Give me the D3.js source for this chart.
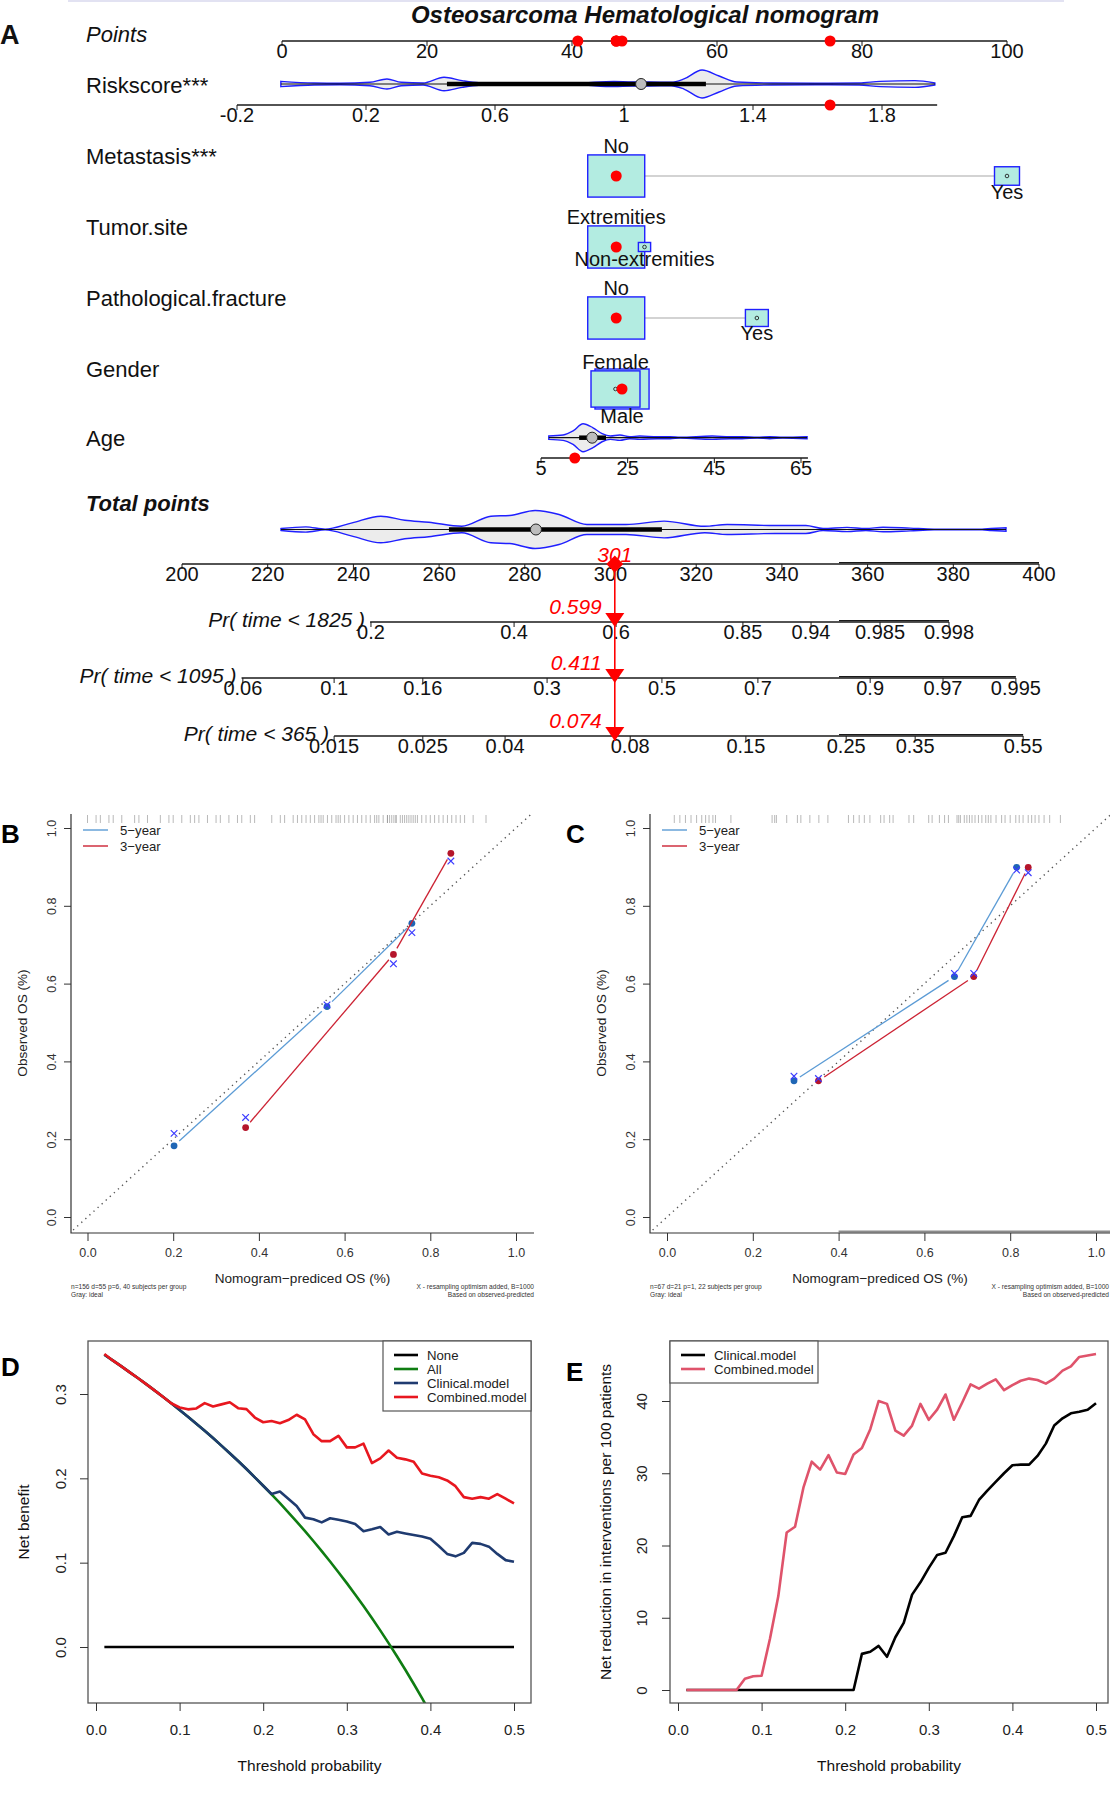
<!DOCTYPE html>
<html>
<head>
<meta charset="utf-8">
<title>Osteosarcoma Hematological nomogram</title>
<script src="https://cdn.jsdelivr.net/npm/d3@7"></script>
<style>
  body { margin: 0; background: #fff; }
  svg { display: block; }
</style>
</head>
<body>
<div id="chart-area"></div>
<script>
// ---------------- panel A : nomogram values
var pointTicks = [0, 20, 40, 60, 80, 100];
var riskTicks = [-0.2, 0.2, 0.6, 1, 1.4, 1.8];
var ageTicks = [5, 25, 45, 65];
var totalTicks = [200, 220, 240, 260, 280, 300, 320, 340, 360, 380, 400];

// violin outlines: grid value + relative density
var riskGrid = [-0.064, 0.039, 0.119, 0.212, 0.265, 0.309, 0.377, 0.442, 0.498, 0.550, 0.715, 0.848, 0.969,
                1.025, 1.078, 1.146, 1.186, 1.242, 1.295, 1.350, 1.456, 1.592, 1.729, 1.794, 1.902, 1.964];
var riskDens = [0.19, 0.07, 0.05, 0.12, 0.36, 0.12, 0.07, 0.48, 0.24, 0.10, 0.05, 0.05, 0.19,
                0.14, 0.14, 0.12, 0.36, 1.00, 0.57, 0.14, 0.07, 0.05, 0.07, 0.19, 0.24, 0.07];
var riskBox = [0.451, 1.053, 1.254];

var ageGrid = [6.8, 10.1, 12.4, 14.7, 17.0, 19.1, 21.0, 23.2, 25.5, 27.8, 31.8, 34.8, 37.1, 44.5, 48.6, 51.4, 54.9, 57.8, 60.8, 66.4];
var ageDens = [0.12, 0.19, 0.48, 1.00, 0.71, 0.29, 0.12, 0.19, 0.07, 0.12, 0.07, 0.07, 0.03, 0.12, 0.07, 0.07, 0.03, 0.07, 0.03, 0.07];
var ageBox = [13.8, 16.8, 20.0];

var totGrid = [223.1, 228.9, 233.4, 239.7, 246.4, 252.0, 257.6, 265.3, 272.1, 276.5, 282.4, 288.0, 294.5, 303.6,
               312.5, 322.0, 327.2, 338.4, 345.6, 349.6, 355.2, 359.6, 363.6, 369.9, 375.5, 386.7, 388.8, 392.3];
var totDens = [0.05, 0.14, 0.02, 0.35, 0.70, 0.49, 0.38, 0.17, 0.70, 0.74, 1.00, 0.79, 0.26, 0.26,
               0.44, 0.17, 0.26, 0.21, 0.21, 0.05, 0.11, 0.05, 0.12, 0.07, 0.02, 0.02, 0.05, 0.09];
var totBox = [262.3, 282.6, 312.0];

// categorical variables: levels, points, counts
var metaLevels = ["No", "Yes"],                  metaPts = [46.1, 100],  metaN = [130, 25];
var siteLevels = ["Extremities", "Non-extremities"], sitePts = [46.1, 50.0], siteN = [130, 6];
var fracLevels = ["No", "Yes"],                  fracPts = [46.1, 65.5], fracN = [130, 21];
var sexLevels = ["Female", "Male"],              sexPts = [46.0, 46.9],  sexN = [96, 117];

// the patient shown in red
var patRisk = 1.639, patAge = 12.8, patTotal = 301;
var patLevel = [0, 0, 0, 1];
var patPts = [75.6, 46.1, 46.1, 46.1, 46.9, 40.8];

// probability axes: tick labels and the total points where they sit
var prNames = ["Pr( time < 1825 )", "Pr( time < 1095 )", "Pr( time < 365 )"];
var prTicks = [[0.2, 0.4, 0.6, 0.85, 0.94, 0.985, 0.998],
               [0.06, 0.1, 0.16, 0.3, 0.5, 0.7, 0.9, 0.97, 0.995],
               [0.015, 0.025, 0.04, 0.08, 0.15, 0.25, 0.35, 0.55]];
var prAt = [[244.1, 277.5, 301.3, 330.9, 346.8, 362.9, 379.0],
            [214.2, 235.5, 256.2, 285.2, 312.0, 334.4, 360.6, 377.6, 394.6],
            [235.5, 256.2, 275.4, 304.6, 331.6, 355.0, 371.1, 396.3]];
var prSpan = [[243.9, 379.0], [213.9, 394.6], [235.5, 396.3]];
var prPat = ["0.599", "0.411", "0.074"];

// ---------------- panels B, C : calibration
var calTicks = [0, 0.2, 0.4, 0.6, 0.8, 1.0];
var b5x = [0.202, 0.559, 0.757], b5y = [0.183, 0.541, 0.755], b5c = [0.215, 0.545, 0.731];
var b3x = [0.369, 0.714, 0.848], b3y = [0.230, 0.675, 0.935], b3c = [0.256, 0.651, 0.915];
var c5x = [0.296, 0.670, 0.815], c5y = [0.350, 0.618, 0.899], c5c = [0.362, 0.626, 0.892];
var c3x = [0.353, 0.715, 0.842], c3y = [0.350, 0.618, 0.899], c3c = [0.356, 0.626, 0.885];
var rugB = [0.00, 0.02, 0.03, 0.05, 0.06, 0.08, 0.11, 0.12, 0.14, 0.17, 0.19, 0.20, 0.22, 0.24, 0.25, 0.26,
            0.28, 0.30, 0.31, 0.33, 0.35, 0.36, 0.38, 0.39, 0.43, 0.45, 0.46, 0.48, 0.49, 0.50, 0.51, 0.52,
            0.53, 0.54, 0.545, 0.55, 0.56, 0.57, 0.58, 0.585, 0.59, 0.60, 0.61, 0.62, 0.63, 0.64, 0.65, 0.66,
            0.67, 0.675, 0.68, 0.69, 0.70, 0.70, 0.705, 0.71, 0.715, 0.72, 0.72, 0.73, 0.735, 0.74, 0.745,
            0.75, 0.755, 0.76, 0.765, 0.77, 0.78, 0.79, 0.80, 0.81, 0.82, 0.83, 0.84, 0.85, 0.86, 0.87, 0.88,
            0.90, 0.93];
var rugC = [0.017, 0.030, 0.043, 0.056, 0.069, 0.081, 0.090, 0.098, 0.107, 0.113, 0.149,
            0.245, 0.251, 0.255, 0.279, 0.304, 0.312, 0.333, 0.354, 0.375,
            0.423, 0.435, 0.448, 0.460, 0.473, 0.498, 0.506, 0.519, 0.527, 0.564, 0.575,
            0.610, 0.618, 0.635, 0.647, 0.656, 0.676, 0.680, 0.684, 0.693, 0.699, 0.705, 0.711, 0.718,
            0.726, 0.734, 0.743, 0.749, 0.755, 0.767, 0.780, 0.788, 0.800, 0.813, 0.821, 0.830, 0.842,
            0.850, 0.858, 0.867, 0.879, 0.892, 0.917];

// ---------------- panels D, E : decision curves
var thr = [0.01, 0.02, 0.03, 0.04, 0.05, 0.06, 0.07, 0.08, 0.09, 0.10, 0.11, 0.12, 0.13, 0.14, 0.15, 0.16, 0.17,
           0.18, 0.19, 0.20, 0.21, 0.22, 0.23, 0.24, 0.25, 0.26, 0.27, 0.28, 0.29, 0.30, 0.31, 0.32, 0.33, 0.34,
           0.35, 0.36, 0.37, 0.38, 0.39, 0.40, 0.41, 0.42, 0.43, 0.44, 0.45, 0.46, 0.47, 0.48, 0.49, 0.50];
var nbAll = [0.3465, 0.3398, 0.3330, 0.3260, 0.3189, 0.3117, 0.3043, 0.2967, 0.2890, 0.2811, 0.2730, 0.2648,
             0.2563, 0.2477, 0.2388, 0.2298, 0.2205, 0.2110, 0.2012, 0.1912, 0.1810, 0.1705, 0.1597, 0.1487,
             0.1373, 0.1257, 0.1137, 0.1014, 0.0887, 0.0757, 0.0623, 0.0485, 0.0343, 0.0197, 0.0046, -0.0109,
             -0.0270, -0.0436, -0.0607, -0.0783];
var nbClin = [0.3465, 0.3398, 0.3330, 0.3260, 0.3189, 0.3117, 0.3043, 0.2967, 0.2890, 0.2811, 0.2730, 0.2648,
              0.2563, 0.2477, 0.2388, 0.2298, 0.2205, 0.2110, 0.2012, 0.1912, 0.1814, 0.1844, 0.1758, 0.1671,
              0.1534, 0.1515, 0.1478, 0.1527, 0.1508, 0.1489, 0.1459, 0.1373, 0.1396, 0.1422, 0.1335, 0.1366,
              0.1347, 0.1328, 0.1310, 0.1283, 0.1197, 0.1104, 0.1075, 0.1116, 0.1235, 0.1223, 0.1190, 0.1104,
              0.1030, 0.1011];
var nbComb = [0.3475, 0.3398, 0.3330, 0.3260, 0.3189, 0.3117, 0.3043, 0.2967, 0.2890, 0.2840, 0.2818, 0.2829,
              0.2892, 0.2851, 0.2877, 0.2902, 0.2832, 0.2821, 0.2721, 0.2665, 0.2680, 0.2654, 0.2691, 0.2754,
              0.2698, 0.2523, 0.2441, 0.2441, 0.2504, 0.2367, 0.2367, 0.2411, 0.2181, 0.2236, 0.2330, 0.2244,
              0.2225, 0.2196, 0.2057, 0.2031, 0.2012, 0.1975, 0.1907, 0.1777, 0.1758, 0.1777, 0.1758, 0.1814,
              0.1758, 0.1702];
var nrClin = [0, 0, 0, 0, 0, 0, 0, 0, 0, 0, 0, 0, 0, 0, 0, 0, 0, 0, 0, 0, 0,
              5.0, 5.3, 6.1, 4.6, 7.3, 9.3, 13.2, 14.9, 16.9, 18.7, 19.0, 21.3, 23.9, 24.1, 26.3, 27.6, 28.8,
              30.0, 31.1, 31.2, 31.2, 32.4, 34.1, 36.6, 37.6, 38.3, 38.5, 38.8, 39.7];
var nrComb = [0, 0, 0, 0, 0, 0, 0,
              1.55, 1.9, 1.97, 7.1, 13.0, 21.8, 22.6, 28.0, 31.6, 30.5, 32.5, 30.1, 29.9, 32.6, 33.5, 36.1,
              40.0, 39.6, 35.9, 35.2, 36.6, 39.6, 37.4, 38.8, 40.9, 37.4, 39.8, 42.3, 41.7, 42.4, 43.0, 41.5,
              42.2, 42.8, 43.1, 42.9, 42.4, 43.1, 44.2, 44.8, 46.1, 46.3, 46.5];

// ---------------------------------------------------------------
var FONT = "'Liberation Sans', Arial, Helvetica, sans-serif";
var RED = "#ff0000", VBLUE = "#1f1fff";

var svg = d3.select("#chart-area").append("svg")
    .attr("width", 1110).attr("height", 1801)
    .attr("viewBox", [0, 0, 1110, 1801])
    .style("font-family", FONT);

function txt(g, x, y, s, size, o) {
    o = o || {};
    return g.append("text").attr("x", x).attr("y", y).text(s)
        .attr("font-size", size)
        .attr("text-anchor", o.anchor || "start")
        .attr("font-weight", o.weight || null)
        .attr("font-style", o.style || null)
        .attr("fill", o.fill || "#111");
}
function vtxt(g, cx, cy, s, size, o) {
    o = o || {};
    return g.append("text").attr("transform", "translate(" + (cx + size * 0.36) + "," + cy + ") rotate(-90)")
        .attr("text-anchor", "middle").attr("font-size", size).attr("fill", o.fill || "#111").text(s);
}

// ================= A
var A = svg.append("g");
var xPts = d3.scaleLinear().domain([0, 100]).range([282, 1007]);
var xRisk = d3.scaleLinear().domain([-0.2, 1.8]).range([237, 882]);
var xAge = d3.scaleLinear().domain([5, 65]).range([541, 801]);
var xTot = d3.scaleLinear().domain([200, 400]).range([182, 1039]);

A.append("line").attr("x1", 68).attr("x2", 1064).attr("y1", 1).attr("y2", 1)
    .attr("stroke", "#e2e2f2").attr("stroke-width", 2);
txt(A, 645, 23, "Osteosarcoma Hematological nomogram", 24, {anchor: "middle", weight: "bold", style: "italic"});
txt(A, 0, 44, "A", 27, {weight: "bold"});

function nomoAxis(scale, at, labels, y, span, step) {
    var g = A.append("g");
    g.append("line").attr("x1", scale(span[0])).attr("x2", scale(span[1]))
        .attr("y1", y).attr("y2", y).attr("stroke", "#1a1a1a").attr("stroke-width", 1.6);
    if (step) g.append("line").attr("x1", step).attr("x2", scale(span[1]))
        .attr("y1", y - 1.3).attr("y2", y - 1.3).attr("stroke", "#1a1a1a").attr("stroke-width", 1.3);
    g.selectAll("line.tk").data(at).join("line").attr("class", "tk")
        .attr("x1", d => scale(d)).attr("x2", d => scale(d))
        .attr("y1", y).attr("y2", y + 5).attr("stroke", "#1a1a1a").attr("stroke-width", 1);
    g.selectAll("text").data(labels).join("text")
        .attr("x", (d, i) => scale(at[i])).attr("y", y + 17)
        .attr("text-anchor", "middle").attr("font-size", 20).attr("fill", "#111")
        .text(d => d);
}

function violin(scale, grid, dens, cy, hmax, box) {
    var g = A.append("g");
    var area = d3.area()
        .x((d, i) => scale(grid[i]))
        .y0((d, i) => cy + hmax * dens[i])
        .y1((d, i) => cy - hmax * dens[i])
        .curve(d3.curveMonotoneX);
    g.append("path").datum(grid).attr("d", area)
        .attr("fill", "#ececec").attr("stroke", VBLUE).attr("stroke-width", 1.4);
    g.append("line").attr("x1", scale(grid[0])).attr("x2", scale(grid[grid.length - 1]))
        .attr("y1", cy).attr("y2", cy).attr("stroke", "#111").attr("stroke-width", 1.2);
    g.append("line").attr("x1", scale(box[0])).attr("x2", scale(box[2]))
        .attr("y1", cy).attr("y2", cy).attr("stroke", "#000").attr("stroke-width", 4.5);
    g.append("circle").attr("cx", scale(box[1])).attr("cy", cy).attr("r", 5.5)
        .attr("fill", "#bdbdbd").attr("stroke", "#222").attr("stroke-width", 1);
}

var boxW = d3.scaleSqrt().domain([0, 130]).range([0, 57]);
function catRow(name, levels, pts, ns, sel, cy, labelY) {
    txt(A, 86, labelY, name, 22);
    var g = A.append("g");
    g.append("line").attr("x1", xPts(pts[0])).attr("x2", xPts(pts[1]))
        .attr("y1", cy).attr("y2", cy).attr("stroke", "#c4c4c4").attr("stroke-width", 1.6);
    var order = d3.range(levels.length).sort((a, b) => ns[b] - ns[a]);
    g.selectAll("rect").data(order).join("rect")
        .attr("x", i => xPts(pts[i]) - boxW(ns[i]) / 2)
        .attr("y", i => cy - boxW(ns[i]) * 0.37)
        .attr("width", i => boxW(ns[i]))
        .attr("height", i => boxW(ns[i]) * 0.74)
        .attr("fill", "#b3ece1").attr("stroke", VBLUE).attr("stroke-width", 1.4);
    g.selectAll("circle.mk").data(order).join("circle").attr("class", "mk")
        .attr("cx", i => xPts(pts[i])).attr("cy", cy).attr("r", 1.8)
        .attr("fill", "none").attr("stroke", "#222").attr("stroke-width", 0.9);
    txt(g, xPts(pts[0]), cy - boxW(ns[0]) * 0.37 - 2, levels[0], 20, {anchor: "middle"});
    txt(g, xPts(pts[1]), cy + boxW(ns[1]) * 0.37 + 14, levels[1], 20, {anchor: "middle"});
    g.append("circle").attr("cx", xPts(pts[sel])).attr("cy", cy).attr("r", 5.5).attr("fill", RED);
}

txt(A, 86, 42, "Points", 22, {style: "italic"});
nomoAxis(xPts, pointTicks, pointTicks, 41, [0, 100]);

txt(A, 86, 93, "Riskscore***", 22);
violin(xRisk, riskGrid, riskDens, 84, 14, riskBox);
nomoAxis(xRisk, riskTicks, riskTicks.map(String), 105, [-0.2, 1.971]);

catRow("Metastasis***", metaLevels, metaPts, metaN, patLevel[0], 176, 164);
catRow("Tumor.site", siteLevels, sitePts, siteN, patLevel[1], 247, 235);
catRow("Pathological.fracture", fracLevels, fracPts, fracN, patLevel[2], 318, 306);
catRow("Gender", sexLevels, sexPts, sexN, patLevel[3], 389, 377);

txt(A, 86, 446, "Age", 22);
violin(xAge, ageGrid, ageDens, 437.7, 14, ageBox);
nomoAxis(xAge, ageTicks, ageTicks, 458, [5, 66.6]);

txt(A, 86, 511, "Total points", 22, {weight: "bold", style: "italic"});
violin(xTot, totGrid, totDens, 529.5, 19, totBox);
nomoAxis(xTot, totalTicks, totalTicks, 564, [200, 400], 839);

var prY = [622, 678, 736];
prNames.forEach(function (nm, i) {
    nomoAxis(xTot, prAt[i], prTicks[i].map(String), prY[i], prSpan[i], 839);
    txt(A, xTot(prSpan[i][0]) - 5, prY[i] + 5, nm, 21, {anchor: "end", style: "italic"});
});

// red patient marks
A.selectAll("circle.pp").data(patPts).join("circle").attr("class", "pp")
    .attr("cx", d => xPts(d)).attr("cy", 41).attr("r", 5.5).attr("fill", RED);
A.append("circle").attr("cx", xRisk(patRisk)).attr("cy", 105).attr("r", 5.5).attr("fill", RED);
A.append("circle").attr("cx", xAge(patAge)).attr("cy", 458).attr("r", 5.5).attr("fill", RED);

var tx = xTot(patTotal);
A.append("line").attr("x1", tx).attr("x2", tx).attr("y1", 564).attr("y2", 741)
    .attr("stroke", RED).attr("stroke-width", 1.6);
A.append("path").attr("d", "M" + (tx - 8.5) + ",564L" + tx + ",555.5L" + (tx + 8.5) + ",564L" + tx + ",572.5Z")
    .attr("fill", RED);
txt(A, tx, 562, String(patTotal), 21, {anchor: "middle", style: "italic", fill: RED});
prY.forEach(function (y, i) {
    A.append("path").attr("d", "M" + (tx - 9.5) + "," + (y - 9) + "L" + (tx + 9.5) + "," + (y - 9) + "L" + tx + "," + (y + 5) + "Z")
        .attr("fill", RED);
    txt(A, tx - 13, y - 8, prPat[i], 21, {anchor: "end", style: "italic", fill: RED});
});

// ================= B, C
var COL5 = "#5b9bd5", DOT5 = "#1f66b5", COL3 = "#cc2233", DOT3 = "#b5152b", XCOL = "#3c3cff";

function gapped(px, py, gap) {
    var segs = [];
    for (var i = 0; i < px.length - 1; i++) {
        var dx = px[i + 1] - px[i], dy = py[i + 1] - py[i], L = Math.hypot(dx, dy), f = gap / L;
        segs.push([px[i] + dx * f, py[i] + dy * f, px[i + 1] - dx * f, py[i + 1] - dy * f]);
    }
    return segs;
}

function calPanel(c) {
    var g = svg.append("g");
    var top = 814, bottom = 1233;
    var x = d3.scaleLinear().domain([0, 1]).range(c.xr);
    var y = d3.scaleLinear().domain([0, 1]).range([1217, 828]);

    g.append("clipPath").attr("id", "clip" + c.id).append("rect")
        .attr("x", c.left).attr("y", top).attr("width", c.right - c.left).attr("height", bottom - top);

    g.selectAll("line.rug").data(c.rug).join("line").attr("class", "rug")
        .attr("x1", d => x(d)).attr("x2", d => x(d)).attr("y1", top + 1).attr("y2", top + 9)
        .attr("stroke", "#8a8a8a").attr("stroke-opacity", 0.6).attr("stroke-width", 1);

    g.append("line").attr("clip-path", "url(#clip" + c.id + ")")
        .attr("x1", x(-0.1)).attr("y1", y(-0.1)).attr("x2", x(1.1)).attr("y2", y(1.1))
        .attr("stroke", "#555").attr("stroke-width", 1.4).attr("stroke-dasharray", "1.3,4.2");

    if (c.extra) g.append("line").attr("x1", x(0.4)).attr("x2", c.right).attr("y1", bottom - 1.5).attr("y2", bottom - 1.5)
        .attr("stroke", "#8c8c8c").attr("stroke-width", 2);

    g.append("path").attr("d", "M" + c.left + "," + top + "V" + bottom + "H" + c.right)
        .attr("fill", "none").attr("stroke", "#333").attr("stroke-width", 1.2);

    var xa = g.append("g").attr("transform", "translate(0," + bottom + ")")
        .call(d3.axisBottom(x).tickValues(calTicks).tickSize(8).tickFormat(d3.format(".1f")));
    xa.attr("font-family", FONT).select(".domain").remove();
    xa.selectAll("line").attr("stroke", "#333");
    xa.selectAll("text").attr("y", 24).attr("dy", null).attr("font-size", 12.5).attr("fill", "#333");

    var ya = g.append("g").attr("transform", "translate(" + c.left + ",0)")
        .call(d3.axisLeft(y).tickValues(calTicks).tickSize(7).tickFormat(d3.format(".1f")));
    ya.attr("font-family", FONT).select(".domain").remove();
    ya.selectAll("line").attr("stroke", "#333");
    ya.selectAll("text").attr("transform", "rotate(-90)").attr("x", 0).attr("y", -15.5)
        .attr("dy", null).attr("text-anchor", "middle").attr("font-size", 12.5).attr("fill", "#333");

    [[c.x5, c.y5, c.c5, COL5, DOT5], [c.x3, c.y3, c.c3, COL3, DOT3]].forEach(function (s) {
        var px = s[0].map(x), py = s[1].map(y);
        g.selectAll(null).data(gapped(px, py, 7)).join("line")
            .attr("x1", d => d[0]).attr("y1", d => d[1]).attr("x2", d => d[2]).attr("y2", d => d[3])
            .attr("stroke", s[3]).attr("stroke-width", 1.3);
        g.selectAll(null).data(s[0]).join("circle")
            .attr("cx", d => x(d)).attr("cy", (d, i) => y(s[1][i])).attr("r", 3.4).attr("fill", s[4]);
        g.selectAll(null).data(s[0]).join("path")
            .attr("transform", (d, i) => "translate(" + x(d) + "," + y(s[2][i]) + ")")
            .attr("d", "M-3.3,-3.3L3.3,3.3M-3.3,3.3L3.3,-3.3")
            .attr("stroke", XCOL).attr("stroke-width", 1.2);
    });

    // legend
    [["5\u2212year", COL5, 830], ["3\u2212year", COL3, 846]].forEach(function (l) {
        g.append("line").attr("x1", c.left + 12).attr("x2", c.left + 37).attr("y1", l[2]).attr("y2", l[2])
            .attr("stroke", l[1]).attr("stroke-width", 1.4);
        txt(g, c.left + 49, l[2] + 4.6, l[0], 13.2, {fill: "#222"});
    });

    txt(g, (c.left + c.right) / 2, 1283, "Nomogram\u2212prediced OS (%)", 13.6, {anchor: "middle", fill: "#222"});
    vtxt(g, c.left - 49, 1023, "Observed OS (%)", 13.6, {fill: "#222"});
    txt(g, c.left, 1289, c.note, 6.6, {fill: "#333"});
    txt(g, c.left, 1297, "Gray: ideal", 6.6, {fill: "#333"});
    txt(g, c.noteR, 1289, "X - resampling optimism added, B=1000", 6.6, {anchor: "end", fill: "#333"});
    txt(g, c.noteR, 1297, "Based on observed-predicted", 6.6, {anchor: "end", fill: "#333"});
    txt(g, c.letterX, 843, c.letter, 26, {weight: "bold", fill: "#000"});
}

calPanel({id: "B", letter: "B", letterX: 1, left: 71, right: 534, xr: [87.5, 516], rug: rugB,
    x5: b5x, y5: b5y, c5: b5c, x3: b3x, y3: b3y, c3: b3c,
    note: "n=156 d=55 p=6, 40 subjects per group", noteR: 534});
calPanel({id: "C", letter: "C", letterX: 566, left: 650, right: 1110, xr: [667, 1096], rug: rugC, extra: true,
    x5: c5x, y5: c5y, c5: c5c, x3: c3x, y3: c3y, c3: c3c,
    note: "n=67 d=21 p=1, 22 subjects per group", noteR: 1109});

// ================= D, E
function dcaPanel(c) {
    var g = svg.append("g");
    var top = 1341, bottom = 1703;
    var x = d3.scaleLinear().domain([0, 0.5]).range(c.xr);
    var y = d3.scaleLinear().domain(c.yd).range(c.yr);

    g.append("clipPath").attr("id", "clip" + c.id).append("rect")
        .attr("x", c.left).attr("y", top).attr("width", c.right - c.left).attr("height", bottom - top);
    var lines = g.append("g").attr("clip-path", "url(#clip" + c.id + ")");
    var line = d3.line().x(d => x(d[0])).y(d => y(d[1]));
    c.series.forEach(function (s) {
        lines.append("path").datum(s.v.map((v, i) => [s.t[i], v])).attr("d", line)
            .attr("fill", "none").attr("stroke", s.col).attr("stroke-width", 2.6).attr("stroke-linejoin", "round");
    });

    g.append("rect").attr("x", c.left).attr("y", top).attr("width", c.right - c.left).attr("height", bottom - top)
        .attr("fill", "none").attr("stroke", "#555").attr("stroke-width", 1.3);

    var xa = g.append("g").attr("transform", "translate(0," + bottom + ")")
        .call(d3.axisBottom(x).tickValues([0, 0.1, 0.2, 0.3, 0.4, 0.5]).tickSize(8).tickFormat(d3.format(".1f")));
    xa.attr("font-family", FONT).select(".domain").remove();
    xa.selectAll("line").attr("stroke", "#333");
    xa.selectAll("text").attr("y", 32).attr("dy", null).attr("font-size", 15).attr("fill", "#222");

    var ya = g.append("g").attr("transform", "translate(" + c.left + ",0)")
        .call(d3.axisLeft(y).tickValues(c.yt).tickSize(8).tickFormat(c.yf));
    ya.attr("font-family", FONT).select(".domain").remove();
    ya.selectAll("line").attr("stroke", "#333");
    ya.selectAll("text").attr("transform", "rotate(-90)").attr("x", 0).attr("y", -(c.left - c.ylab) + 5.4)
        .attr("dy", null).attr("text-anchor", "middle").attr("font-size", 15).attr("fill", "#222");

    var lg = c.legend;
    g.append("rect").attr("x", lg.x).attr("y", top).attr("width", lg.w).attr("height", 14 * c.series.length + 14)
        .attr("fill", "#fff").attr("stroke", "#555").attr("stroke-width", 1.2);
    c.series.forEach(function (s, i) {
        var ly = 1355 + 14 * i;
        g.append("line").attr("x1", lg.x + 11).attr("x2", lg.x + 35).attr("y1", ly).attr("y2", ly)
            .attr("stroke", s.col).attr("stroke-width", 2.6);
        txt(g, lg.x + 44, ly + 4.6, s.name, 13.2, {fill: "#222"});
    });

    txt(g, (c.left + c.right) / 2, 1771, "Threshold probability", 15.5, {anchor: "middle", fill: "#111"});
    vtxt(g, c.left - 65, 1522, c.ytitle, 15.5, {fill: "#111"});
    txt(g, c.letterX, c.letterY, c.letter, 26, {weight: "bold", fill: "#000"});
}

dcaPanel({id: "D", letter: "D", letterX: 1, letterY: 1376, left: 88, right: 531,
    xr: [96, 514], yd: [0, 0.3], yr: [1647, 1394], yt: [0, 0.1, 0.2, 0.3], yf: d3.format(".1f"), ylab: 60.5,
    ytitle: "Net benefit", legend: {x: 383, w: 148},
    series: [
        {name: "None", col: "#000000", t: [0.01, 0.50], v: [0, 0]},
        {name: "All", col: "#0f7d12", t: thr.slice(0, nbAll.length), v: nbAll},
        {name: "Clinical.model", col: "#1f3b70", t: thr, v: nbClin},
        {name: "Combined.model", col: "#e8171f", t: thr, v: nbComb}
    ]});

dcaPanel({id: "E", letter: "E", letterX: 566, letterY: 1381, left: 670, right: 1108,
    xr: [678, 1096], yd: [0, 40], yr: [1690, 1401], yt: [0, 10, 20, 30, 40], yf: d3.format("d"), ylab: 642,
    ytitle: "Net reduction in interventions per 100 patients", legend: {x: 670, w: 148},
    series: [
        {name: "Clinical.model", col: "#000000", t: thr, v: nrClin},
        {name: "Combined.model", col: "#df536b", t: thr, v: nrComb}
    ]});
</script>
</body>
</html>
